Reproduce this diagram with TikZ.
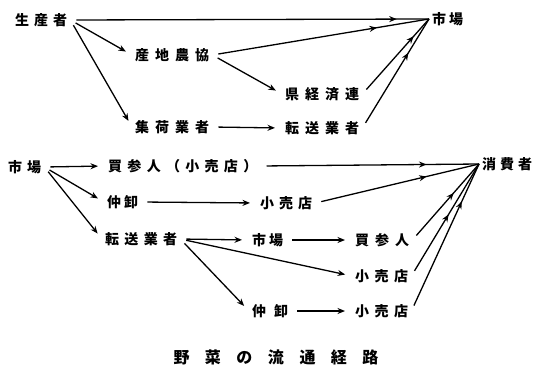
\documentclass[tikz,border=0pt]{standalone}
\usepackage{fontspec}
\newfontfamily\jp{Noto Sans CJK JP}
\usetikzlibrary{arrows.meta,decorations.markings}
\makeatletter
\newcommand\spc[2]{\def\spc@gap{#1}\spc@first#2\relax}
\def\spc@first#1{#1\spc@loop}
\def\spc@loop#1{\ifx#1\relax\else\hspace{\spc@gap}#1\expandafter\spc@loop\fi}
\makeatother
\tikzset{
  lbl/.style={anchor=west, inner sep=3pt, font=\jp\bfseries\fontsize{14}{14}\selectfont},
  arr/.style={line width=1.3pt, -{Stealth[length=7.5pt,width=6pt]}, shorten >=7pt, shorten <=6pt},
  midarr/.style={line width=1.3pt, shorten <=6pt, postaction={decorate},
    decoration={markings, mark=at position #1 with {\arrow{Stealth[length=7.5pt,width=6pt]}}}},
}
\begin{document}
\begin{tikzpicture}[x=1pt,y=-1pt]
\useasboundingbox (0,0) rectangle (537,367);
% upper part
\node[lbl] (p)  at (12,20)  {\spc{5pt}{生産者}};
\node[lbl] (m1) at (429,19) {\spc{3pt}{市場}};
\node[lbl] (n)  at (132,55) {\spc{6pt}{産地農協}};
\node[lbl] (k)  at (282,94) {\spc{6pt}{県経済連}};
\node[lbl] (s)  at (132,127){\spc{6pt}{集荷業者}};
\node[lbl] (t1) at (282,128){\spc{6pt}{転送業者}};
\draw[midarr=0.91] (p.east) -- (m1.west);
\draw[arr] (p.east) -- (n.west);
\draw[arr] (p.east) -- (s.west);
\draw[midarr=0.76] (n.east) -- (m1.west);
\draw[arr] (n.east) -- (k.west);
\draw[arr] (s.east) -- (t1.west);
\draw[midarr=0.77] (k.east) -- (m1.west);
\draw[midarr=0.69] (t1.east) -- (m1.west);
% lower part
\node[lbl] (m2) at (5,167)  {\spc{5pt}{市場}};
\node[lbl] (b1) at (105,166){\spc{5.3pt}{買参人（小売店）}};
\node[lbl] (c)  at (479,164){\spc{4pt}{消費者}};
\node[lbl] (n1) at (104,202){\spc{3pt}{仲卸}};
\node[lbl] (r1) at (257,203){\spc{5pt}{小売店}};
\node[lbl] (t2) at (102,239){\spc{5.3pt}{転送業者}};
\node[lbl] (m3) at (249,240){\spc{3pt}{市場}};
\node[lbl] (b2) at (352,240){\spc{6pt}{買参人}};
\node[lbl] (r2) at (352,276){\spc{5.5pt}{小売店}};
\node[lbl] (n2) at (249,311){\spc{8pt}{仲卸}};
\node[lbl] (r3) at (352,311){\spc{5.5pt}{小売店}};
\draw[arr] (m2.east) -- (b1.west);
\draw[arr] (m2.east) -- (n1.west);
\draw[arr] (m2.east) -- (t2.west);
\draw[midarr=0.76] (b1.east) -- (c.west);
\draw[arr] (n1.east) -- (r1.west);
\draw[midarr=0.68] (r1.east) -- (c.west);
\draw[arr] (t2.east) -- (m3.west);
\draw[arr] (t2.east) -- (r2.west);
\draw[arr] (t2.east) -- (n2.west);
\draw[arr] (m3.east) -- (b2.west);
\draw[arr] (n2.east) -- (r3.west);
\draw[midarr=0.62] (b2.east) -- (c.west);
\draw[midarr=0.55] (r2.east) -- (c.west);
\draw[midarr=0.745] (r3.east) -- (c.west);
% caption
\node[font=\jp\bfseries\fontsize{16}{16}\selectfont, inner sep=0pt] (cap) at (276,357) {\spc{15.5pt}{野菜の流通経路}};
\end{tikzpicture}
\end{document}
